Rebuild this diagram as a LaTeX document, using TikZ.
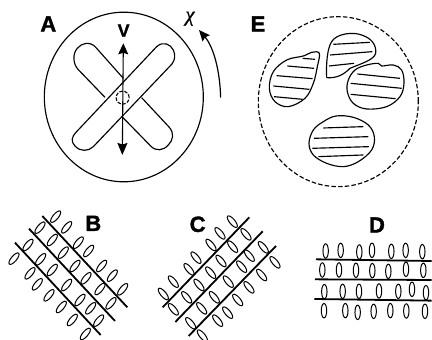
\documentclass[tikz,border=0pt]{standalone}
\usepackage{fontspec}
\setmainfont{Liberation Sans}
\newfontfamily\greekserif[ItalicFeatures={FakeBold=0.6}]{Liberation Serif}
\newfontfamily\heavylabel[BoldFeatures={FakeBold=1.6}]{Liberation Sans}
\usetikzlibrary{arrows.meta}
\tikzset{
  thinline/.style={line width=1.15pt,black},
  panellabel/.style={font=\heavylabel\bfseries\fontsize{22}{22}\selectfont,inner sep=0pt,text=black},
  fibre/.style={line width=1.8pt,black},
  grain/.style={line width=1pt,black},
  striation/.style={line width=1.15pt,black},
  bigtip/.style={-{Stealth[length=11pt,width=9.5pt,inset=1.5pt]}}
}
% one tilted or upright ellipse per listed centre
\newcommand{\grains}[2]{%
  \foreach \px/\py in {#2} {
    \draw[grain,shift={(\px,\py)},rotate=#1] (0,0) ellipse [x radius=7.2pt,y radius=2.7pt];
  }%
}
\begin{document}
\begin{tikzpicture}[x=1pt,y=-1pt]
\useasboundingbox (0,0) rectangle (432,340);

% Panel A: aperture disc with crossed slots
\begin{scope}[x=0.3333pt,y=-0.3333pt]
  \draw[thinline] (371.5,291) ellipse [x radius=79.5pt,y radius=84.8pt];
  % front slot
  \draw[thinline] (228,397) -- (470,140)
     .. controls (490,122) and (512,133) .. (520,150)
     .. controls (527,165) and (525,180) .. (516,192)
     -- (280,440)
     .. controls (265,455) and (240,455) .. (225,438)
     .. controls (212,425) and (215,410) .. (228,397);
  % rear slot, hidden where it passes behind the front one
  \draw[thinline] (315,292) -- (234,208)
     .. controls (218,190) and (218,160) .. (232,145)
     .. controls (245,128) and (272,122) .. (290,145)
     -- (370,235);
  \draw[thinline] (425,293) -- (508,382)
     .. controls (523,400) and (520,420) .. (505,435)
     .. controls (490,452) and (468,455) .. (452,438)
     -- (368,352);
  % tilt axis, rotation centre and direction of rotation
  \coordinate (vtop) at (370,130);
  \coordinate (vbottom) at (367,465);
  \draw[line width=1.1pt,{Stealth[length=11pt,width=10pt,inset=1.5pt]}-{Stealth[length=12pt,width=10pt,inset=1.5pt]}] (vtop) -- (vbottom);
  \node[draw,circle,dash pattern=on 3.5pt off 1.5pt,line width=1.1pt,minimum size=13pt,inner sep=0pt] (pivot) at (368,293) {};
  \coordinate (chistart) at (662,293);
  \coordinate (chiend) at (597,90);
  \draw[line width=1.2pt,bigtip] (chistart) .. controls (660,210) and (640,140) .. (chiend);
  \node[panellabel] (labelA) at (145,72) {A};
  \node[font=\heavylabel\bfseries\fontsize{17.5}{17.5}\selectfont,inner sep=0pt] (labelV) at (371,92) {V};
  \node[font=\greekserif\itshape\fontsize{21}{21}\selectfont,inner sep=0pt] (labelchi) at (570,56) {χ};
\end{scope}

% Panel E: dashed disc with striated particles
\begin{scope}[shift={(230,0)},x=0.3333pt,y=-0.3333pt]
  \draw[thinline,dash pattern=on 4.5pt off 2.2pt] (325,305) ellipse [x radius=80pt,y radius=85pt];
  \node[panellabel] (labelE) at (84,72) {E};
  \draw[thinline] plot[smooth cycle,tension=0.6] coordinates {(268,160) (262,200) (250,250) (225,295) (175,320) (135,305) (118,265) (130,215) (170,180) (220,168) (245,157)};
  \draw[striation] (218,175)--(255,178) (172,198)--(252,205) (140,227)--(248,236) (130,258)--(238,268) (132,290)--(218,298);
  \draw[thinline] (290,233) .. controls (288,190) and (292,145) .. (305,125)
     .. controls (320,100) and (370,95) .. (395,105)
     .. controls (425,115) and (440,135) .. (437,160)
     .. controls (432,180) and (395,190) .. (360,205)
     .. controls (340,225) and (320,235) .. (290,233);
  \draw[striation] (310,133)--(420,127) (300,165)--(427,155) (297,198)--(372,190);
  \draw[thinline] plot[smooth cycle,tension=0.6] coordinates {(355,240) (375,210) (410,195) (445,190) (455,198) (490,195) (515,210) (522,250) (510,290) (470,320) (410,327) (370,310) (352,275)};
  \draw[striation] (382,222)--(510,235) (362,250)--(515,265) (362,283)--(497,296);
  \draw[thinline] plot[smooth cycle,tension=0.6] coordinates {(318,348) (370,352) (415,375) (433,410) (425,450) (385,485) (340,500) (290,490) (250,465) (237,430) (250,390) (280,365)};
  \draw[striation] (280,384)--(400,380) (252,415)--(415,410) (247,445)--(417,440) (265,470)--(400,465);
\end{scope}

% Panel B: fibres running down to the right
\begin{scope}[shift={(0,190)},x=0.3333pt,y=-0.3333pt]
  \node[panellabel] (labelB) at (280,100) {B};
  \draw[fibre] (127,78)--(382,352) (87,116)--(345,393) (45,158)--(302,435);
  \grains{50}{167/80,120/113,200/112,84/165,157/150,235/158,42/206,122/208,190/188,266/183,90/250,157/240,225/228,305/228,112/283,200/285,258/265,337/257,147/316,240/330,300/297,368/298,184/351,272/355,333/340,217/390,296/392,256/432}
\end{scope}

% Panel C: fibres running up to the right
\begin{scope}[shift={(150,190)},x=0.3333pt,y=-0.3333pt]
  \node[panellabel] (labelC) at (143,103) {C};
  \draw[fibre] (298,82)--(38,352) (338,124)--(76,396) (378,168)--(116,438);
  \grains{-50}{247/95,210/130,288/133,183/165,248/170,138/203,213/213,298/197,340/172,375/217,117/238,182/248,275/230,335/255,70/275,147/285,235/275,297/292,40/312,110/322,193/322,263/330,70/358,155/355,233/368,122/400,203/392}
  \begin{scope}
    \clip (120,410) rectangle (200,450);
    \grains{-50}{157/437}
  \end{scope}
\end{scope}

% Panel D: horizontal fibres
\begin{scope}[shift={(300,200)},x=0.3333pt,y=-0.3333pt]
  \node[panellabel] (labelD) at (231,75) {D};
  \draw[fibre] (48,178)--(395,183) (45,238)--(395,240) (43,297)--(395,302);
  \grains{90}{77/153,122/151,178/156,216/151,274/154,317/151,367/155,67/210,117/210,168/211,217/212,265/214,318/208,370/211,73/275,128/274,177/274,237/273,295/274,336/268,378/278,72/332,136/332,173/337,221/334,271/332,319/333,375/334}
\end{scope}
\end{tikzpicture}
\end{document}
